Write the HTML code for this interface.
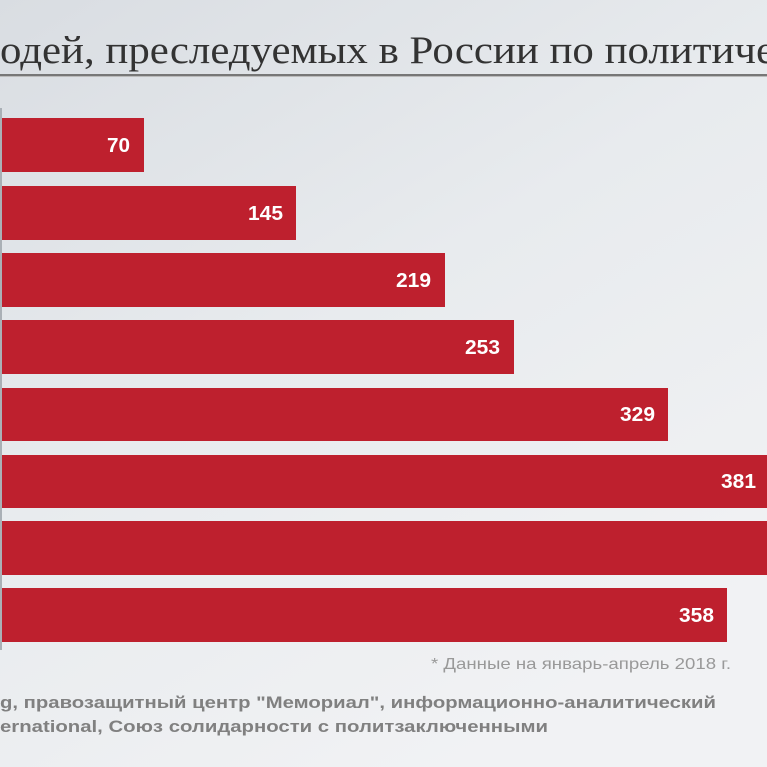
<!DOCTYPE html>
<html><head><meta charset="utf-8"><style>
html,body{margin:0;padding:0;width:767px;height:767px;overflow:hidden}
</style></head><body>
<svg width="767" height="767" viewBox="0 0 767 767" xmlns="http://www.w3.org/2000/svg">
<defs>
<linearGradient id="bg" x1="0" y1="0" x2="0.6" y2="1">
<stop offset="0" stop-color="#d9dde2"/>
<stop offset="0.5" stop-color="#e8ebee"/>
<stop offset="1" stop-color="#f1f2f4"/>
</linearGradient>
</defs>
<rect width="767" height="767" fill="url(#bg)"/>
<text x="0" y="63" font-family="Liberation Serif, serif" font-size="39" fill="#333" textLength="775" lengthAdjust="spacingAndGlyphs">одей, преследуемых в России по политиче</text>
<rect x="0" y="74" width="767" height="2" fill="#777"/>
<rect x="0" y="76" width="767" height="1" fill="#bbb"/>
<rect x="0" y="108" width="2" height="542" fill="#aab0b6"/>
<g fill="#be202e">
<rect x="2" y="118" width="142" height="54"/>
<rect x="2" y="186" width="294" height="54"/>
<rect x="2" y="253" width="443" height="54"/>
<rect x="2" y="320" width="512" height="54"/>
<rect x="2" y="388" width="666" height="53"/>
<rect x="2" y="455" width="765" height="53"/>
<rect x="2" y="521" width="765" height="54"/>
<rect x="2" y="588" width="725" height="54"/>
</g>
<g font-family="Liberation Sans, sans-serif" font-weight="bold" font-size="20" fill="#fff">
<text x="107" y="152" textLength="23" lengthAdjust="spacingAndGlyphs">70</text>
<text x="248" y="220" textLength="35" lengthAdjust="spacingAndGlyphs">145</text>
<text x="396" y="287" textLength="35" lengthAdjust="spacingAndGlyphs">219</text>
<text x="465" y="354" textLength="35" lengthAdjust="spacingAndGlyphs">253</text>
<text x="620" y="421" textLength="35" lengthAdjust="spacingAndGlyphs">329</text>
<text x="721" y="488" textLength="35" lengthAdjust="spacingAndGlyphs">381</text>
<text x="679" y="622" textLength="35" lengthAdjust="spacingAndGlyphs">358</text>
</g>
<text x="431" y="669" font-family="Liberation Sans, sans-serif" font-size="16" fill="#999" textLength="300" lengthAdjust="spacingAndGlyphs">* Данные на январь-апрель 2018 г.</text>
<g font-family="Liberation Sans, sans-serif" font-weight="bold" font-size="17" fill="#808080">
<text x="0" y="708" textLength="716" lengthAdjust="spacingAndGlyphs">g, правозащитный центр "Мемориал", информационно-аналитический</text>
<text x="0" y="732" textLength="548" lengthAdjust="spacingAndGlyphs">ernational, Союз солидарности с политзаключенными</text>
</g>
</svg>
</body></html>
